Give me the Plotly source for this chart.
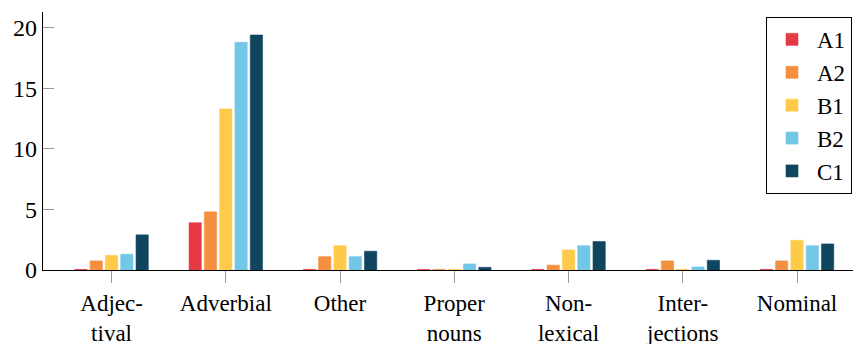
import plotly.graph_objects as go

categories = ["Adjec-<br>tival", "Adverbial", "Other", "Proper<br>nouns",
              "Non-<br>lexical", "Inter-<br>jections", "Nominal"]
series_names = ["A1", "A2", "B1", "B2", "C1"]
A1 = [0.05, 3.9, 0.05, 0.05, 0.05, 0.05, 0.05]
A2 = [0.75, 4.8, 1.1, 0.05, 0.4, 0.75, 0.75]
B1 = [1.2, 13.3, 2.0, 0.05, 1.65, 0.05, 2.45]
B2 = [1.3, 18.8, 1.1, 0.5, 2.0, 0.25, 2.0]
C1 = [2.9, 19.4, 1.55, 0.22, 2.35, 0.8, 2.15]
series_values = [A1, A2, B1, B2, C1]
colors = ["#E63946", "#F4903F", "#FFC94A", "#72C7E6", "#10455F"]
line_colors = ["rgba(230,57,70,0.6)", "rgba(244,144,63,0.6)", "rgba(255,201,74,0.6)",
               "rgba(114,199,230,0.6)", "rgba(16,69,95,0.6)"]

FONT = "Liberation Serif, Times New Roman, serif"

fig = go.Figure()
for name, vals, c, lc in zip(series_names, series_values, colors, line_colors):
    fig.add_trace(go.Bar(
        x=list(range(len(categories))), y=vals, name=name,
        marker=dict(color=c, line=dict(color=lc, width=1)),
    ))

# page body has an 8px margin, compensate in figure margins
fig.update_layout(
    width=861, height=344,
    margin=dict(l=35, r=8, t=4, b=82),
    paper_bgcolor="white", plot_bgcolor="white",
    barmode="group", bargap=0.33, bargroupgap=0.2,
    font=dict(family=FONT, size=23, color="black"),
    showlegend=True,
    legend=dict(
        x=0.989, y=0.981, xanchor="right", yanchor="top",
        bordercolor="black", borderwidth=1, bgcolor="white",
        font=dict(family=FONT, size=23, color="black"),
        tracegroupgap=0, itemwidth=40,
    ),
    xaxis=dict(
        range=[-0.6, 6.56], automargin=False,
        tickmode="array", tickvals=list(range(len(categories))), ticktext=categories,
        showline=True, linecolor="black", linewidth=1.2,
        ticks="outside", ticklen=12, tickcolor="#999999", tickwidth=1.2,
        showgrid=False, zeroline=False, tickangle=0,
        tickfont=dict(family=FONT, size=23, color="black"),
    ),
    yaxis=dict(
        range=[0, 21.3], automargin=False,
        tickvals=[0, 5, 10, 15, 20],
        showline=True, linecolor="black", linewidth=1.2,
        ticks="inside", ticklen=11, tickcolor="#999999", tickwidth=1.2,
        showgrid=False, zeroline=False,
        tickfont=dict(family=FONT, size=24, color="black"),
    ),
)

fig.write_html("out.html")
